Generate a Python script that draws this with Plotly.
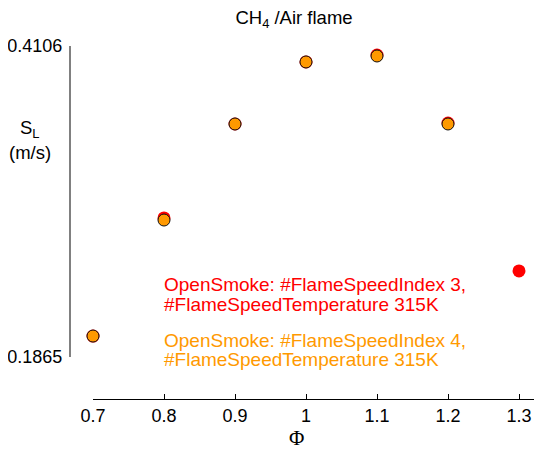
import plotly.graph_objects as go

phi_red = [0.7, 0.8, 0.9, 1.0, 1.1, 1.2, 1.3]
sl_red = [0.2016, 0.2867, 0.3544, 0.3991, 0.4041, 0.3551, 0.2485]
phi_orange = [0.7, 0.8, 0.9, 1.0, 1.1, 1.2]
sl_orange = [0.2016, 0.2852, 0.3544, 0.3991, 0.4034, 0.3544]
x_ticks = [0.7, 0.8, 0.9, 1.0, 1.1, 1.2, 1.3]
x_ticklabels = ["0.7", "0.8", "0.9", "1", "1.1", "1.2", "1.3"]
y_ticks = [0.1865, 0.4106]
y_ticklabels = ["0.1865", "0.4106"]
label_red = ["OpenSmoke: #FlameSpeedIndex 3,", "#FlameSpeedTemperature 315K"]
label_orange = ["OpenSmoke: #FlameSpeedIndex 4,", "#FlameSpeedTemperature 315K"]

RED = "#ff0000"
ORANGE = "#ff9900"
FONT = "Liberation Sans, Arial, sans-serif"

# page body has an 8px margin; figure sized to fit the window exactly
OFF = 8
W, H = 542 - OFF, 453 - OFF
ml, mr, mt, mb = 70 - OFF, 0, 46 - OFF, H - (399 - OFF)
pw = W - ml - mr
ph = H - mt - mb


def xp(px):
    return (px - OFF - ml) / pw


def yp(py):
    return (H - mb - (py - OFF)) / ph


ydom0 = yp(357)
xdom0 = xp(93)

ppu = (519 - 93) / 0.6
xmin = 0.7
xmax = xmin + (pw - (93 - 70)) / ppu

fig = go.Figure()
fig.add_trace(go.Scatter(x=phi_red, y=sl_red, mode="markers",
                         marker=dict(color=RED, size=13, line=dict(width=0)),
                         showlegend=False, cliponaxis=False))
fig.add_trace(go.Scatter(x=phi_orange, y=sl_orange, mode="markers",
                         marker=dict(color=ORANGE, size=12, line=dict(color="#111111", width=1)),
                         showlegend=False, cliponaxis=False))

annotations = []
for t, ypx in zip(label_red, [284, 304]):
    annotations.append(dict(x=xp(162), y=yp(ypx), xref="paper", yref="paper", text=t,
                            showarrow=False, xanchor="left", yanchor="middle",
                            font=dict(family=FONT, size=19, color=RED)))
for t, ypx in zip(label_orange, [340, 359]):
    annotations.append(dict(x=xp(162), y=yp(ypx), xref="paper", yref="paper", text=t,
                            showarrow=False, xanchor="left", yanchor="middle",
                            font=dict(family=FONT, size=19, color=ORANGE)))
annotations.append(dict(x=xp(30), y=yp(129), xref="paper", yref="paper",
                        text="S<sub>L</sub>", showarrow=False, xanchor="center", yanchor="middle",
                        font=dict(family=FONT, size=18.5, color="black")))
annotations.append(dict(x=xp(30), y=yp(152), xref="paper", yref="paper",
                        text="(m/s)", showarrow=False, xanchor="center", yanchor="middle",
                        font=dict(family=FONT, size=18.5, color="black")))
annotations.append(dict(x=xp(296), y=yp(438), xref="paper", yref="paper",
                        xanchor="center", yanchor="middle", text="Φ", showarrow=False,
                        font=dict(family="Liberation Serif, Times New Roman, serif", size=21, color="black")))

fig.update_layout(
    width=W, height=H,
    margin=dict(l=ml, r=mr, t=mt, b=mb, autoexpand=False),
    paper_bgcolor="white", plot_bgcolor="white",
    font=dict(family=FONT, size=18, color="black"),
    title=dict(text="CH<sub>4</sub> /Air flame", x=(294 - OFF) / W, xanchor="center",
               y=1 - (18 - OFF) / H, yanchor="middle", yref="container",
               font=dict(family=FONT, size=18.5, color="black")),
    xaxis=dict(range=[xmin, xmax], domain=[xdom0, 1], anchor="free", position=0,
               tickvals=x_ticks, ticktext=x_ticklabels, ticks="inside", ticklen=5,
               tickcolor="black", showline=True, linecolor="black", linewidth=1,
               showgrid=False, zeroline=False, tickfont=dict(size=18)),
    yaxis=dict(range=[0.1865, 0.4106], domain=[ydom0, 1], anchor="free", position=0,
               tickvals=y_ticks, ticktext=y_ticklabels, ticks="inside", ticklen=5,
               tickcolor="#808080", showline=True, linecolor="#808080", linewidth=2,
               showgrid=False, zeroline=False, tickfont=dict(size=18),
               ticklabelstandoff=3),
    annotations=annotations,
)

fig.write_html("out.html")
